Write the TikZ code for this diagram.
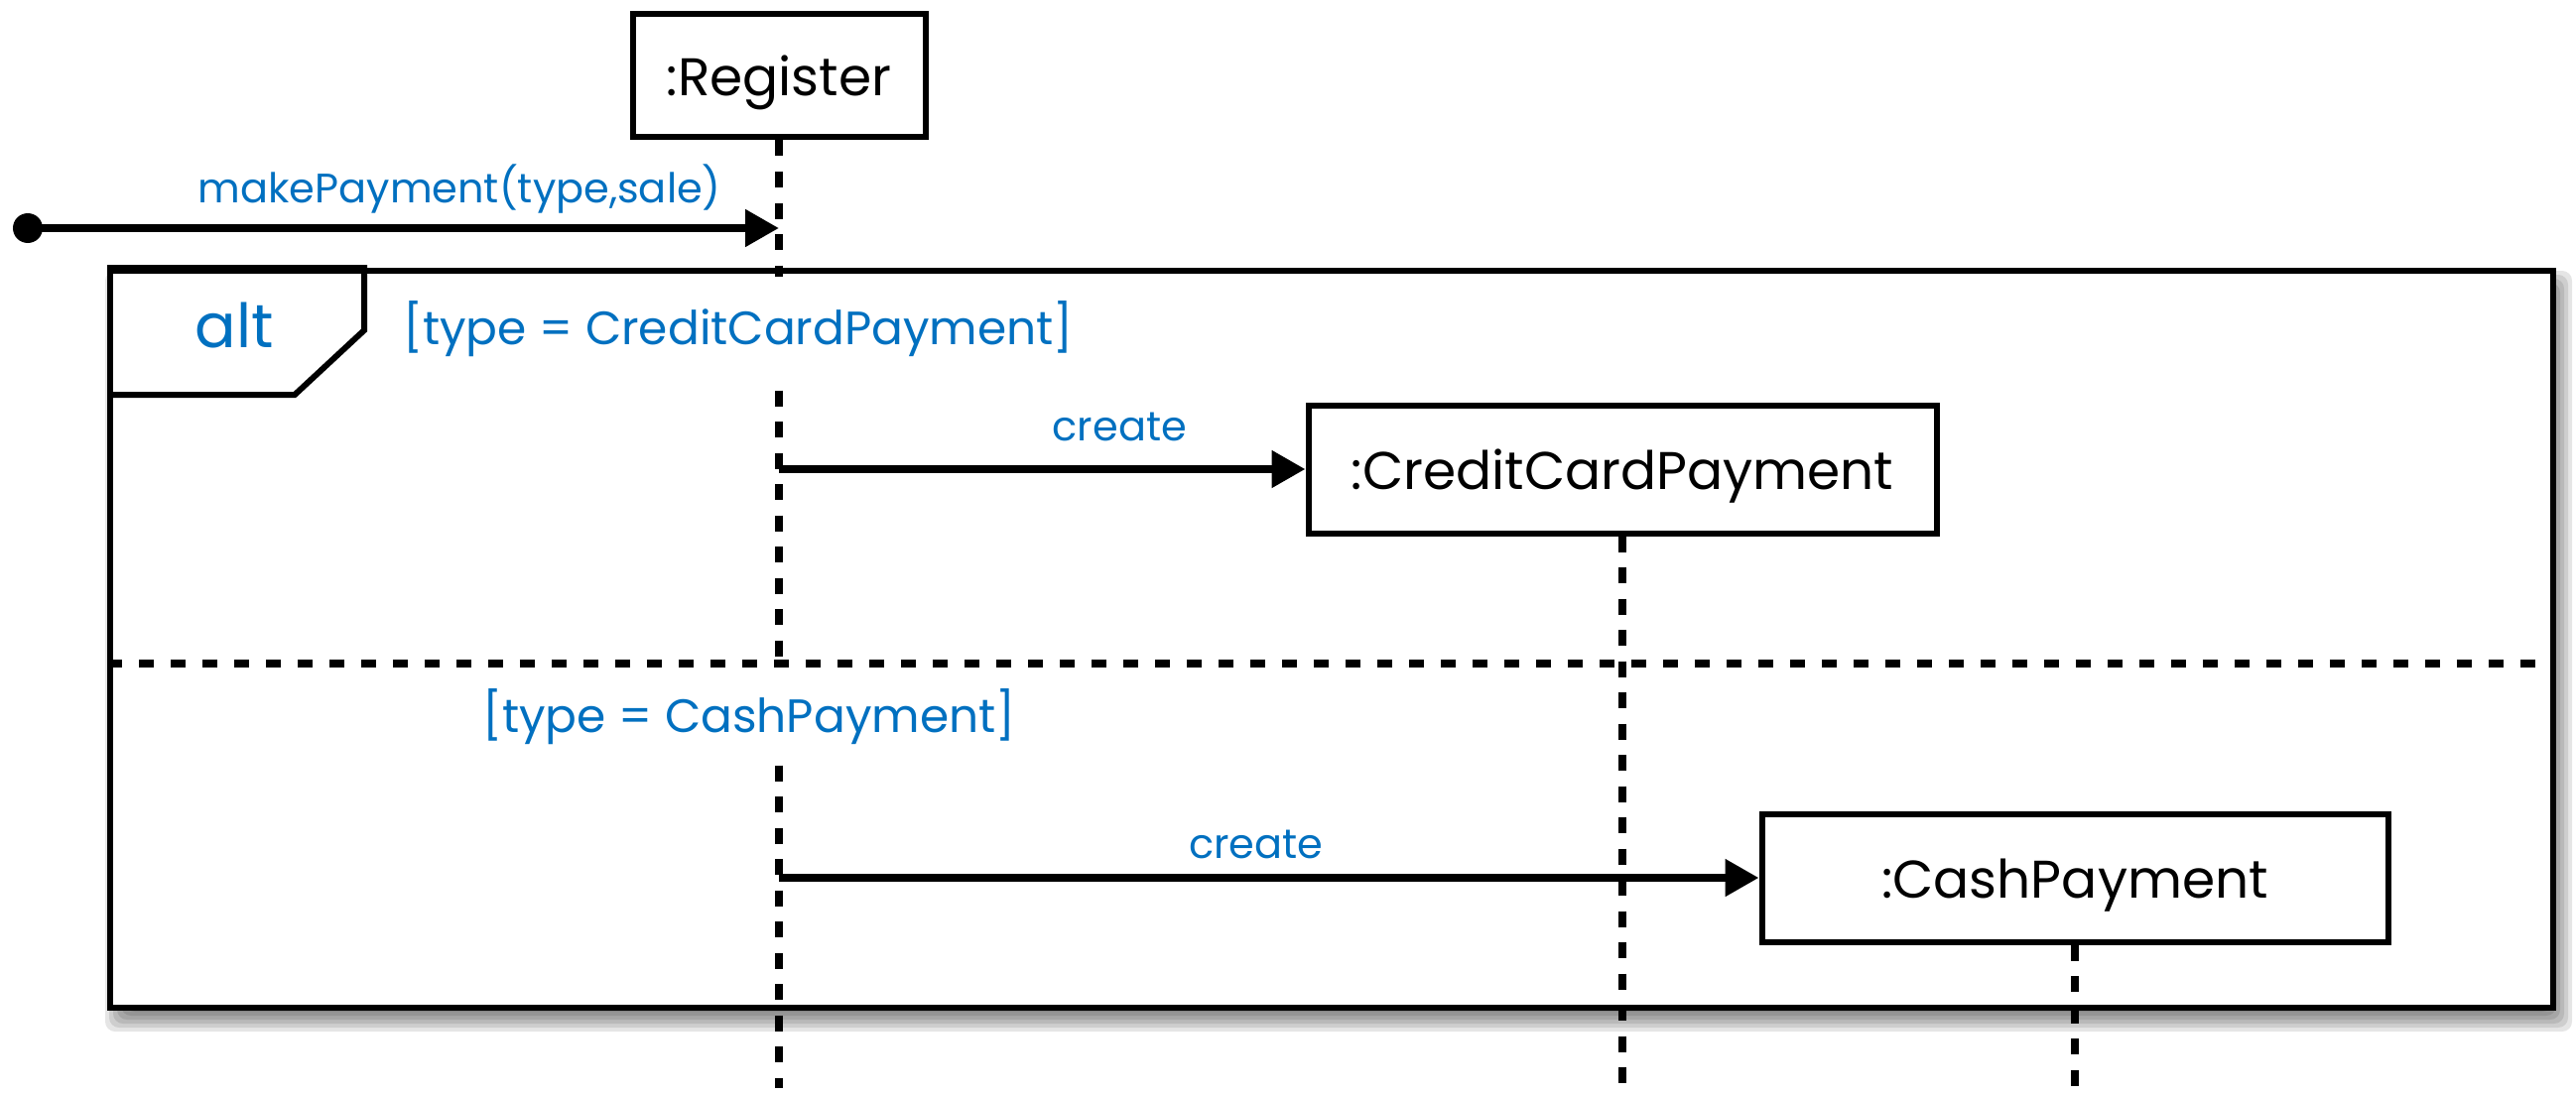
\documentclass[tikz,border=0pt]{standalone}
\usepackage{fontspec}
\setmainfont{Poppins}
\usetikzlibrary{arrows.meta, positioning}
\definecolor{umlblue}{RGB}{0,112,192}

\begin{document}
\begin{tikzpicture}[
    object/.style={draw, line width=0.06cm, fill=white, inner sep=0pt, text height=0.55cm, text depth=0.14cm, font=\fontsize{15.2}{18}\selectfont},
    lifeline/.style={line width=0.075cm, dash pattern=on 0.16cm off 0.155cm},
    msg/.style={line width=0.08cm, -{Triangle[length=0.34cm, width=0.36cm]}},
    msglabel/.style={anchor=base, yshift=0.26cm, text=umlblue, font=\fontsize{11.8}{14}\selectfont},
    guard/.style={anchor=west, fill=white, inner xsep=1pt, text=umlblue, font=\fontsize{13.4}{16}\selectfont},
    frameline/.style={line width=0.06cm},
    separator/.style={line width=0.08cm, dash pattern=on 0.15cm off 0.17cm},
  ]
  \useasboundingbox (0,0) rectangle (25.96,-11.03);
  % Lifeline of the register
  \def\xReg{7.85}

  % Soft shadow under the alt frame
  \foreach \k in {0,...,5}
    \fill[black, opacity=0.1, rounded corners=0.1cm]
      ({1.26-0.04*\k},{-2.93+0.04*\k}) rectangle ({25.72+0.04*\k},{-10.20-0.04*\k});

  % Combined fragment
  \node[frameline, draw, fill=white, minimum width=24.62cm, minimum height=7.43cm, inner sep=0pt] (altframe) at (13.42,-6.445) {};

  % Participants
  \node[object, minimum width=2.95cm, minimum height=1.24cm] (reg) at (\xReg,-0.765) {:Register};
  \node[object, minimum width=6.33cm, minimum height=1.29cm] (ccp) at (16.35,-4.73) {:CreditCardPayment};
  \node[object, minimum width=6.31cm, minimum height=1.29cm] (cash) at (20.91,-8.85) {:CashPayment};

  % Lifelines
  \coordinate (bottom) at (0,-10.97);
  \draw[lifeline] (reg.south) -- (reg.south |- bottom);
  \draw[lifeline] (ccp.south) -- (ccp.south |- bottom);
  \draw[lifeline] (cash.south) -- (cash.south |- bottom);

  % Guards
  \node[guard, minimum height=1.06cm] (guardcc) at (4.02,-3.32) {[type = CreditCardPayment]};
  \node[guard, minimum height=0.95cm] (guardcash) at (4.82,-7.23) {[type = CashPayment]};

  % Operator tag and operand separator
  \draw[frameline] (altframe.north west) -| ++(2.59,-0.63) -- ++(-0.70,-0.65) -- ++(-1.89,0);
  \node[text=umlblue, font=\fontsize{17.5}{21}\selectfont] (alt) at (2.36,-3.28) {alt};
  \coordinate (sep) at (0,-6.69);
  \draw[separator] (altframe.west |- sep) -- (altframe.east |- sep);

  % Messages
  \node[circle, fill, minimum size=0.3cm, inner sep=0pt] (start) at (0.28,-2.30) {};
  \draw[msg] (start.center) -- (reg |- start) node[msglabel, pos=0.575] {makePayment(type,sale)};
  \draw[msg] (reg |- ccp) -- (ccp) node[msglabel, pos=0.647, yshift=0.03cm] {create};
  \draw[msg] (reg |- cash) -- (cash) node[msglabel, pos=0.487, yshift=-0.065cm] {create};
\end{tikzpicture}
\end{document}
